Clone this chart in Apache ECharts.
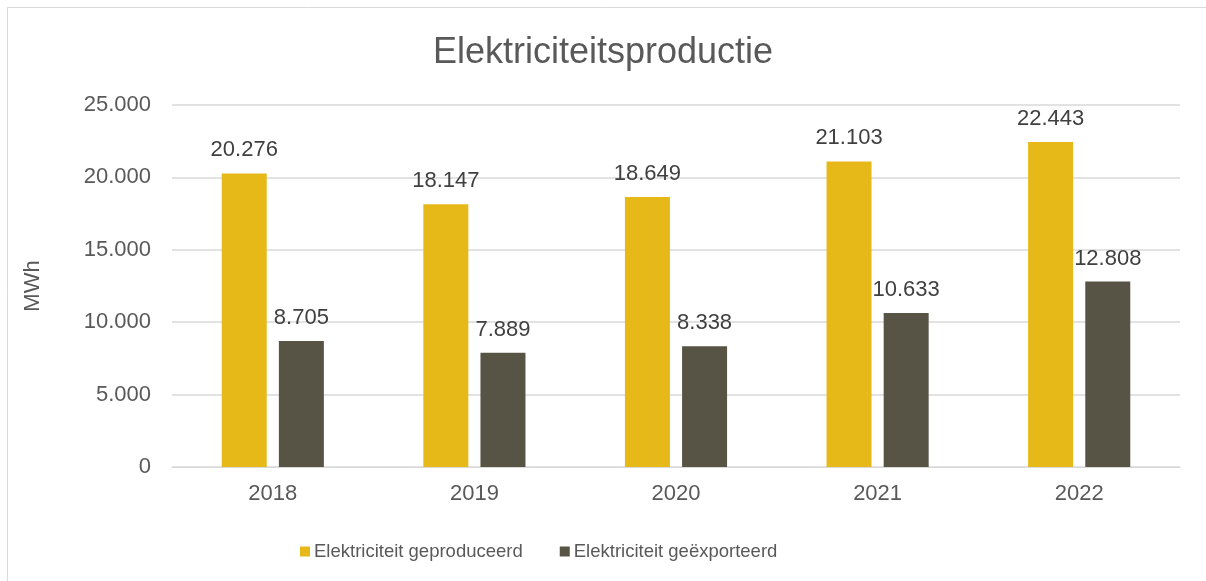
<!DOCTYPE html>
<html>
<head>
<meta charset="utf-8">
<script src="https://cdn.jsdelivr.net/npm/echarts@6/dist/echarts.min.js"></script>
<style>
  html, body { margin: 0; padding: 0; background: #fff; }
  #chart { width: 1206px; height: 581px; }
</style>
</head>
<body>
<div id="chart"></div>
<script>
const years = ['2018', '2019', '2020', '2021', '2022']
const produced = [20276, 18147, 18649, 21103, 22443]
const exported = [8705, 7889, 8338, 10633, 12808]
const yTicks = { min: 0, max: 25000, interval: 5000 }

// Dutch number format: 20.276
function nl(v) {
  return String(v).replace(/\B(?=(\d{3})+(?!\d))/g, '.')
}

const chart = echarts.init(document.getElementById('chart'))
const font = 'Liberation Sans, Arial, sans-serif'
const labelStyle = {
  show: true,
  position: 'top',
  distance: 12,
  color: '#404040',
  fontSize: 22,
  fontFamily: font,
  formatter: p => nl(p.value)
}

chart.setOption({
  animation: false,
  graphic: [{
    type: 'rect',
    shape: { x: 7.5, y: 7.5, width: 1400, height: 800 },
    style: { fill: 'none', stroke: '#d9d9d9', lineWidth: 1 },
    silent: true
  }],
  title: {
    text: 'Elektriciteitsproductie',
    left: 'center',
    top: 30,
    textStyle: { color: '#595959', fontSize: 36, fontWeight: 'normal', fontFamily: font }
  },
  legend: {
    left: 295,
    top: 537,
    itemWidth: 10,
    itemHeight: 10,
    itemGap: 37,
    icon: 'rect',
    textStyle: { color: '#595959', fontSize: 18.5, fontFamily: font, padding: [0, 0, 0, -1] },
    data: ['Elektriciteit geproduceerd', 'Elektriciteit geëxporteerd']
  },
  grid: { left: 172, right: 26, top: 105, bottom: 114 },
  xAxis: {
    type: 'category',
    data: years,
    axisLine: { lineStyle: { color: '#d9d9d9', width: 1 } },
    axisTick: { show: false },
    axisLabel: { color: '#595959', fontSize: 22, fontFamily: font, margin: 16 }
  },
  yAxis: {
    type: 'value',
    min: yTicks.min,
    max: yTicks.max,
    interval: yTicks.interval,
    name: 'MWh',
    nameLocation: 'middle',
    nameGap: 128,
    nameTextStyle: { color: '#595959', fontSize: 22, fontFamily: font },
    axisLine: { show: false },
    axisTick: { show: false },
    splitLine: { lineStyle: { color: '#d9d9d9', width: 1.5 } },
    axisLabel: { color: '#595959', fontSize: 22, fontFamily: font, margin: 21, formatter: v => nl(v) }
  },
  series: [
    {
      name: 'Elektriciteit geproduceerd',
      type: 'bar',
      data: produced,
      barWidth: 45,
      barGap: '27%',
      itemStyle: { color: '#e6b818' },
      label: labelStyle
    },
    {
      name: 'Elektriciteit geëxporteerd',
      type: 'bar',
      data: exported,
      barWidth: 45,
      itemStyle: { color: '#575446' },
      label: labelStyle
    }
  ]
})
</script>
</body>
</html>
